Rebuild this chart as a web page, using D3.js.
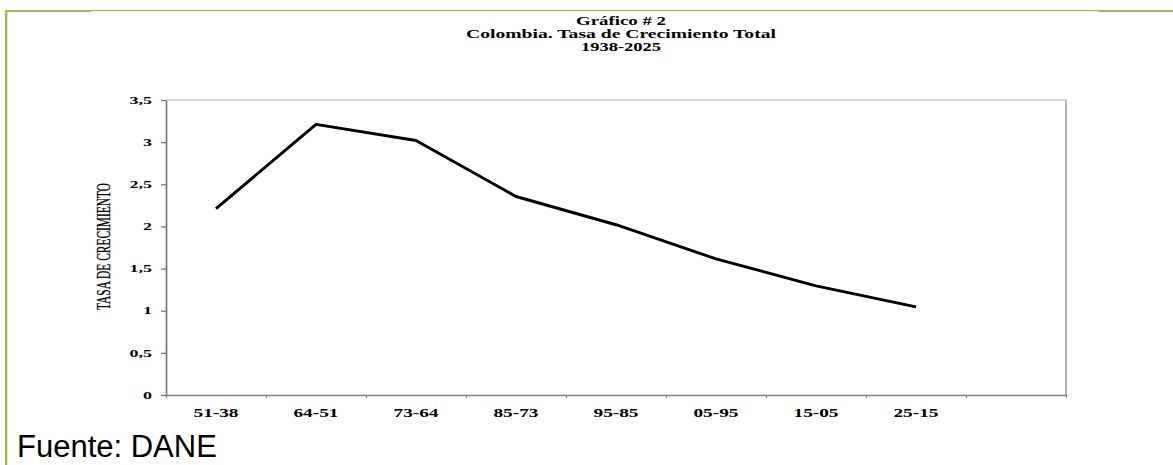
<!DOCTYPE html>
<html>
<head>
<meta charset="utf-8">
<script src="https://cdn.jsdelivr.net/npm/d3@7"></script>
<style>
  html, body { margin: 0; padding: 0; background: #fff; }
  svg { display: block; }
</style>
</head>
<body>
<svg id="chart" width="1173" height="465"></svg>
<script>
// ---- Data ----
const categories = ["51-38", "64-51", "73-64", "85-73", "95-85", "05-95", "15-05", "25-15", ""];
const values = [2.21, 3.21, 3.02, 2.355, 2.02, 1.615, 1.295, 1.045];
const yTicks = [0, 0.5, 1, 1.5, 2, 2.5, 3, 3.5];
const titleLines = ["Gráfico # 2", "Colombia. Tasa de Crecimiento Total", "1938-2025"];
const yLabel = "TASA DE CRECIMIENTO";
const source = "Fuente: DANE";

const svg = d3.select("#chart");
const W = 1173, H = 465;
const plot = { left: 166, right: 1066, top: 100, bottom: 395 };
const green = "#9BBB59";

// ---- Green frame ----
svg.append("rect").attr("x", 5).attr("y", 10).attr("width", 2.4).attr("height", H - 10).attr("fill", green);
svg.append("rect").attr("x", 5).attr("y", 10).attr("width", 86).attr("height", 2).attr("fill", green);
svg.append("rect").attr("x", 91).attr("y", 10).attr("width", 1008).attr("height", 1.2).attr("fill", green);
svg.append("rect").attr("x", 1099).attr("y", 10).attr("width", W - 1099).attr("height", 2).attr("fill", green);

// ---- Scales ----
const x = d3.scaleLinear().domain([0, categories.length]).range([plot.left, plot.right]);
const y = d3.scaleLinear().domain([0, 3.5]).range([plot.bottom, plot.top]);

// ---- Titles ----
const titleFont = "'Liberation Serif', 'Times New Roman', serif";
const titleLens = [90, 310, 80];
const titleY = [25, 38, 51];
titleLines.forEach((t, i) => {
  svg.append("text")
    .attr("x", 621).attr("y", titleY[i])
    .attr("text-anchor", "middle")
    .attr("font-family", titleFont)
    .attr("font-weight", "bold")
    .attr("font-size", 11.5)
    .attr("textLength", titleLens[i])
    .attr("lengthAdjust", "spacingAndGlyphs")
    .attr("fill", "#000")
    .text(t);
});

// ---- Plot border (top & right) ----
svg.append("line").attr("x1", plot.left).attr("x2", plot.right).attr("y1", plot.top).attr("y2", plot.top)
  .attr("stroke", "#c8c8c8").attr("stroke-width", 1.5);
svg.append("line").attr("x1", plot.right).attr("x2", plot.right).attr("y1", plot.top).attr("y2", plot.bottom)
  .attr("stroke", "#9a9a9a").attr("stroke-width", 1.5);

// ---- Y axis ----
const sxY = 1.8;
const yAxis = d3.axisLeft(y).tickValues(yTicks)
  .tickFormat(d => String(d).replace(".", ","))
  .tickSize(5).tickPadding(9).tickSizeOuter(0);
const gy = svg.append("g").attr("transform", `translate(${plot.left},0)`).call(yAxis);
gy.select(".domain").attr("stroke", "#6f6f6f").attr("stroke-width", 1.6);
gy.selectAll(".tick line").attr("stroke", "#6f6f6f").attr("stroke-width", 1.2);
gy.selectAll(".tick text")
  .attr("font-family", titleFont).attr("font-weight", "bold").attr("font-size", 10)
  .attr("fill", "#000")
  .attr("x", -14 / sxY)
  .attr("transform", `scale(${sxY},1)`);

// ---- X axis (ticks at category boundaries) ----
const xAxis = d3.axisBottom(x).tickValues(d3.range(0, categories.length + 1))
  .tickFormat("").tickSize(3).tickSizeOuter(0);
const gx = svg.append("g").attr("transform", `translate(0,${plot.bottom})`).call(xAxis);
gx.select(".domain").attr("stroke", "#808080").attr("stroke-width", 1.5);
gx.selectAll(".tick line").attr("stroke", "#808080").attr("stroke-width", 1.2);

const sxX = 1.68;
svg.append("g").selectAll("text").data(categories).join("text")
  .attr("x", (d, i) => x(i + 0.5) / sxX)
  .attr("y", 417)
  .attr("transform", `scale(${sxX},1)`)
  .attr("text-anchor", "middle")
  .attr("font-family", titleFont).attr("font-weight", "bold").attr("font-size", 11.5)
  .attr("fill", "#000")
  .text(d => d);

// ---- Y label ----
svg.append("text")
  .attr("transform", `translate(110,246.5) rotate(-90)`)
  .attr("text-anchor", "middle")
  .attr("font-family", titleFont)
  .attr("font-size", 18.5)
  .attr("textLength", 127)
  .attr("lengthAdjust", "spacingAndGlyphs")
  .attr("fill", "#000")
  .attr("stroke", "#000")
  .attr("stroke-width", 0.3)
  .text(yLabel);

// ---- Line ----
const line = d3.line().x((d, i) => x(i + 0.5)).y(d => y(d));
svg.append("path").datum(values)
  .attr("d", line)
  .attr("fill", "none")
  .attr("stroke", "#000")
  .attr("stroke-width", 2.9)
  .attr("stroke-linejoin", "round");

// ---- Source ----
svg.append("text")
  .attr("x", 17).attr("y", 457)
  .attr("font-family", "'Liberation Sans', Arial, sans-serif")
  .attr("font-size", 31)
  .attr("fill", "#000")
  .text(source);
</script>
</body>
</html>
